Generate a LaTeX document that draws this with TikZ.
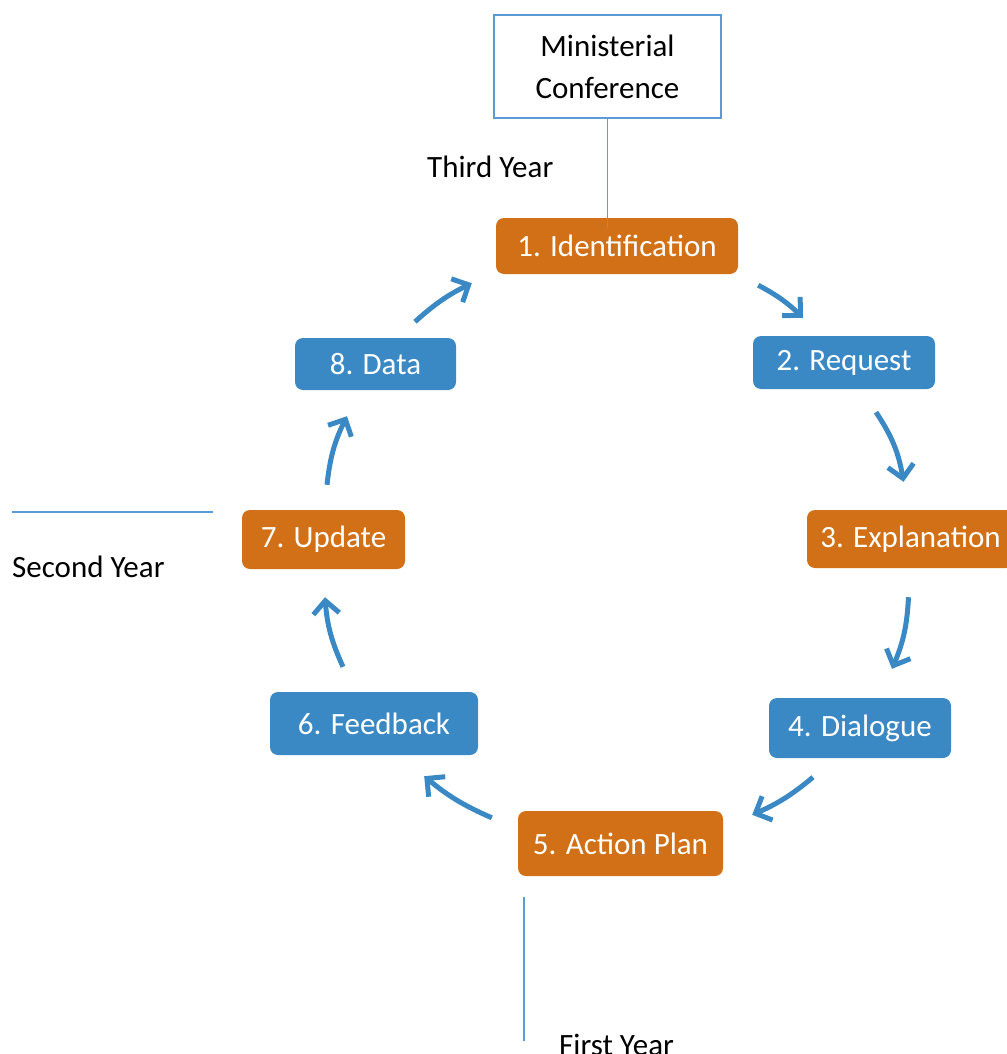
\documentclass[tikz,border=0pt]{standalone}
\usepackage{fontspec}
\setmainfont{Carlito}
\usepackage{tikz}
\usetikzlibrary{arrows.meta}

\definecolor{stageorange}{RGB}{209,112,22}
\definecolor{stageblue}{RGB}{59,137,196}
\definecolor{yearblue}{RGB}{91,155,213}

\tikzset{
  stage/.style={rounded corners=8pt, inner sep=0pt, text=white, font=\fontsize{31}{38}\selectfont},
  orangestage/.style={stage, fill=stageorange},
  bluestage/.style={stage, fill=stageblue},
  cyc/.style={draw=stageblue, line width=5pt, -{Straight Barb[length=13pt,width=26pt]}},
  yline/.style={draw=yearblue, line width=1.2pt},
  yeartext/.style={font=\fontsize{31}{38}\selectfont, inner sep=0pt}
}

\begin{document}
\begin{tikzpicture}[x=1pt, y=-1pt]

            \useasboundingbox (0,0) rectangle (1006,1054);

            \node[draw=yearblue, line width=1.2pt, fill=white, minimum width=227pt, minimum height=103pt, align=center, font=\fontsize{31}{42}\selectfont] (mc) at (607.5,66.5) {Ministerial\\Conference};
            \node[yeartext, anchor=west] (third) at (427,167) {Third Year};

            \node[orangestage, minimum width=242pt, minimum height=56pt] (b1) at (617,246) {1. Identification};
            \node[bluestage, minimum width=182pt, minimum height=53pt] (b2) at (844,362.5) {2. Request};
            \node[orangestage, minimum width=207pt, minimum height=58pt] (b3) at (910.5,539) {3. Explanation};
            \node[bluestage, minimum width=182pt, minimum height=60pt] (b4) at (860,728) {4. Dialogue};
            \node[orangestage, minimum width=205pt, minimum height=65pt] (b5) at (620.5,843.5) {5. Action Plan};
            \node[bluestage, minimum width=208pt, minimum height=63pt] (b6) at (374,723.5) {6. Feedback};
            \node[orangestage, minimum width=163pt, minimum height=59pt] (b7) at (323.5,539.5) {7. Update};
            \node[bluestage, minimum width=161pt, minimum height=52pt] (b8) at (375.5,364) {8. Data};

            % cycle arrows
            \draw[cyc] ([shift={(20,11)}]b1.south east) to[bend left=8] ([shift={(-41,-18)}]b2.north);
            \draw[cyc] ([shift={(32,23)}]b2.south) to[bend left=12] ([shift={(-7,-28)}]b3.north);
            \draw[cyc] ([shift={(-2,29)}]b3.south) to[bend left=10] ([shift={(32,-29)}]b4.north);
            \draw[cyc] ([shift={(-47,19)}]b4.south) to[bend left=8] ([shift={(29,4)}]b5.north east);
            \draw[cyc] ([shift={(-26,7)}]b5.north west) to[bend left=8] ([shift={(-54,21)}]b6.south east);
            \draw[cyc] ([shift={(-31,-25)}]b6.north) to[bend left=10] ([shift={(1.5,28)}]b7.south);
            \draw[cyc] ([shift={(3.5,-25)}]b7.north) to[bend left=10] ([shift={(-28.5,26)}]b8.south);
            \draw[cyc] ([shift={(39.5,-16)}]b8.north) to[bend left=8] ([shift={(-24,9)}]b1.south west);

            % year markers
            \draw[yline] (mc.south) -- ([shift={(0,10)}]mc.south |- b1.north);

            \coordinate (s1) at (12,512);
            \coordinate (s2) at (213,512);
            \draw[yline] (s1) -- (s2);
            \node[yeartext, anchor=west] (second) at (12,567) {Second Year};

            \coordinate (f1) at (524,897);
            \coordinate (f2) at (524,1041);
            \draw[yline] (f1) -- (f2);
            \node[yeartext, anchor=west] (first) at (559,1045) {First Year};

\end{tikzpicture}
\end{document}
